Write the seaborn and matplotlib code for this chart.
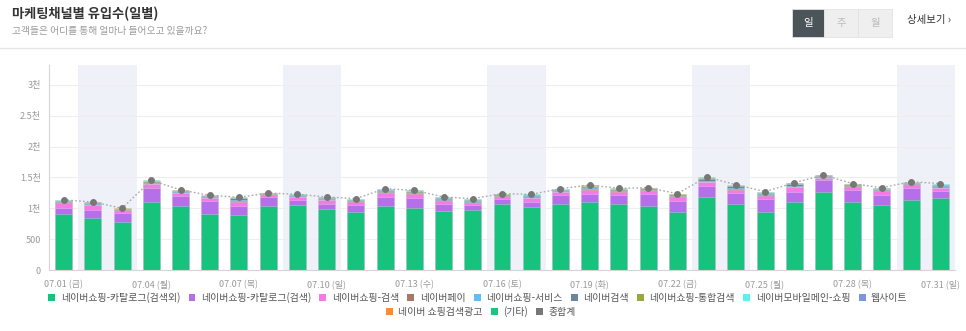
import numpy as np
import pandas as pd
import matplotlib
matplotlib.use("Agg")
import matplotlib.pyplot as plt
from matplotlib.patches import Rectangle, Patch
from matplotlib.lines import Line2D
import seaborn as sns

# ---- data -------------------------------------------------------------
days = [f"07.{d:02d}" for d in range(1, 32)]
weekdays = ["금", "토", "일", "월", "화", "수", "목"] * 5
weekdays = weekdays[:31]

catalog_other = [903, 839, 774, 1102, 1032, 909, 887, 1043, 1059, 984, 946, 1038, 1005, 952, 968, 1075,
                 1016, 1065, 1102, 1065, 1043, 946, 1188, 1070, 946, 1108, 1263, 1097, 1059, 1140, 1172]
catalog_search = [108, 139, 145, 226, 162, 215, 156, 134, 70, 91, 108, 139, 162, 123, 80, 76,
                  81, 145, 135, 145, 183, 178, 178, 183, 199, 161, 189, 199, 161, 193, 113]
shopping_search = [80, 70, 43, 59, 48, 43, 65, 43, 54, 54, 48, 76, 64, 49, 43, 32,
                   70, 53, 59, 53, 59, 59, 53, 48, 59, 70, 37, 53, 65, 49, 38]
naver_pay = [8, 10, 6, 10, 8, 6, 8, 6, 6, 8, 8, 18, 10, 8, 16, 8,
             6, 8, 14, 10, 8, 10, 10, 10, 10, 10, 8, 8, 6, 8, 8]
shopping_service = [6, 8, 6, 8, 8, 10, 10, 4, 6, 8, 8, 6, 8, 16, 8, 10,
                    20, 8, 10, 8, 8, 10, 8, 14, 10, 14, 6, 6, 14, 6, 30]
naver_search = [8, 14, 10, 24, 16, 12, 32, 6, 12, 18, 18, 18, 18, 16, 18, 18,
                14, 18, 30, 16, 16, 16, 40, 28, 20, 22, 16, 20, 14, 14, 14]
shopping_total = [4, 6, 4, 6, 5, 4, 5, 3, 4, 5, 5, 5, 10, 8, 8, 5,
                  5, 5, 10, 12, 5, 5, 6, 6, 8, 6, 5, 4, 4, 6, 5]
mobile_main = [12, 6, 6, 6, 5, 4, 5, 3, 4, 5, 5, 5, 4, 4, 6, 5,
               6, 5, 5, 5, 4, 5, 6, 10, 6, 8, 6, 4, 4, 6, 8]
website = [2, 2, 2, 3, 2, 2, 2, 1, 2, 2, 2, 3, 2, 2, 2, 2,
           2, 2, 3, 2, 2, 2, 3, 3, 3, 3, 2, 2, 2, 2, 3]
search_ad = [1, 2, 1, 2, 2, 1, 2, 1, 1, 2, 2, 2, 2, 1, 2, 1,
             1, 2, 2, 2, 1, 1, 6, 4, 2, 6, 2, 1, 1, 2, 2]
etc = [3, 6, 3, 6, 8, 4, 5, 3, 8, 6, 6, 7, 5, 4, 5, 5,
       5, 6, 6, 5, 4, 5, 7, 6, 6, 6, 4, 4, 3, 4, 5]

series_names = ["네이버쇼핑-카탈로그(검색외)", "네이버쇼핑-카탈로그(검색)", "네이버쇼핑-검색", "네이버페이",
                "네이버쇼핑-서비스", "네이버검색", "네이버쇼핑-통합검색", "네이버모바일메인-쇼핑",
                "웹사이트", "네이버 쇼핑검색광고", "(기타)"]
series_values = [catalog_other, catalog_search, shopping_search, naver_pay, shopping_service,
                 naver_search, shopping_total, mobile_main, website, search_ad, etc]
series_colors = ["#17c37c", "#b56fe8", "#f57ae8", "#a77866", "#5fbff4", "#6b879d",
                 "#9aa73a", "#5df0ee", "#7b95de", "#ff8a33", "#1bc47f"]
total_name = "종합계"
total_color = "#777777"

y_ticks = [0, 500, 1000, 1500, 2000, 2500, 3000]
y_tick_labels = ["0", "500", "1천", "1.5천", "2천", "2.5천", "3천"]

# ---- style ------------------------------------------------------------
sns.set_style("white")
plt.rcParams["font.family"] = ["Noto Sans CJK KR", "DejaVu Sans"]

W, H = 966, 331
fig = plt.figure(figsize=(W / 100, H / 100), dpi=100)


def fx(x):
    return x / W


def fy(y):
    return 1 - y / H


# header
fig.text(fx(12), fy(14), "마케팅채널별 유입수(일별)", fontsize=9.5, color="#333333",
         va="center", ha="left", weight="bold")
fig.text(fx(12), fy(31), "고객들은 어디를 통해 얼마나 들어오고 있을까요?", fontsize=7,
         color="#9a9a9a", va="center", ha="left")
fig.add_artist(Line2D([0, 1], [fy(48), fy(48)], color="#e6e6e6", lw=1, transform=fig.transFigure))

buttons = [("일", 792, 824, "#4b5559", "white"),
           ("주", 824, 858, "#efefef", "#bbbbbb"),
           ("월", 858, 892, "#efefef", "#bbbbbb")]
for label, x0, x1, bg, fg in buttons:
    fig.add_artist(Rectangle((fx(x0), fy(37)), fx(x1) - fx(x0), fy(9) - fy(37),
                             transform=fig.transFigure, facecolor=bg, edgecolor="#e2e2e2", lw=0.6))
    fig.text(fx((x0 + x1) / 2), fy(23), label, fontsize=7.5, color=fg, ha="center", va="center")
fig.text(fx(907), fy(20), "상세보기 ›", fontsize=7.5, color="#333333", ha="left", va="center")

# ---- chart area -------------------------------------------------------
ax = fig.add_axes([fx(49), fy(270), fx(955) - fx(49), fy(65) - fy(270)])
n = len(days)
idx = np.arange(n)

# weekend bands (Saturday + Sunday)
for i, wd in enumerate(weekdays):
    if wd == "토":
        ax.axvspan(i - 0.5, i + 1.5, color="#eef2f8", zorder=0, lw=0)

for yv in y_ticks:
    ax.axhline(yv, color="#eeeeee", lw=0.8, zorder=0.5)

# stacked bars: draw cumulative totals from the top layer down
cum = np.cumsum(np.array(series_values), axis=0)
df = pd.DataFrame({"day": idx})
for k in range(len(series_values) - 1, -1, -1):
    df["v"] = cum[k]
    sns.barplot(data=df, x="day", y="v", color=series_colors[k], width=0.58, ax=ax,
                saturation=1, edgecolor=(1, 1, 1, 0.35), linewidth=0.5, zorder=2,
                native_scale=False, errorbar=None)

totals = cum[-1]
sns.lineplot(x=idx, y=totals, ax=ax, color="#a9a9a9", lw=1, linestyle=(0, (1.2, 1.6)),
             marker="o", markersize=4.2, markerfacecolor=total_color,
             markeredgecolor=total_color, zorder=4)

ax.set_xlim(-0.5, n - 0.5)
ax.set_ylim(0, 3320)
ax.set_yticks(y_ticks)
ax.set_yticklabels(y_tick_labels)
ax.set_xticks(idx)
ax.set_xticklabels([f"{d} ({w})" if i % 3 == 0 else "" for i, (d, w) in enumerate(zip(days, weekdays))])
ax.set_xlabel("")
ax.set_ylabel("")
ax.tick_params(axis="x", length=4, width=0.7, color="#d5d5d5", labelsize=6.5,
               labelcolor="#999999", pad=3)
ax.tick_params(axis="y", length=4, width=0.7, color="#d5d5d5", labelsize=6.5,
               labelcolor="#999999", pad=2)
for side in ["top", "right"]:
    ax.spines[side].set_visible(False)
for side in ["left", "bottom"]:
    ax.spines[side].set_color("#d5d5d5")
    ax.spines[side].set_linewidth(0.8)
ax.set_facecolor("white")

# ---- legends ----------------------------------------------------------
handles = [Patch(facecolor=c, edgecolor="none", label=nm) for nm, c in zip(series_names, series_colors)]
handles.append(Patch(facecolor=total_color, edgecolor="none", label=total_name))
leg_kw = dict(frameon=False, fontsize=7.1, handlelength=0.7, handleheight=0.7,
              handletextpad=0.55, columnspacing=0.85, labelcolor="#555555", borderaxespad=0,
              borderpad=0)
leg1 = fig.legend(handles=handles[:9], ncol=9, loc="center", bbox_to_anchor=(fx(478), fy(298)), **leg_kw)
leg2 = fig.legend(handles=handles[9:], ncol=3, loc="center", bbox_to_anchor=(fx(481), fy(312)), **leg_kw)

fig.savefig("out.png", dpi=100, facecolor="white")
